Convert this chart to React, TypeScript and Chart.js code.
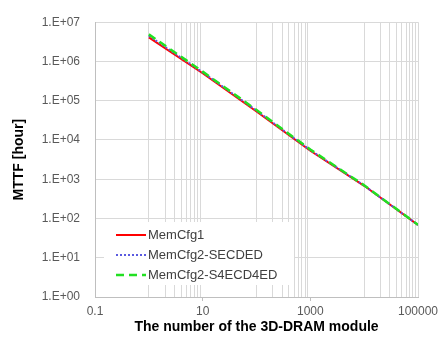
import React, { useEffect, useRef } from "react";
import { Chart, registerables } from "chart.js";

Chart.register(...registerables);

// ---- data ----
const moduleCounts = [1, 10, 100, 1000, 10000, 100000];
const memCfg1 = [4.1e6, 5.0e5, 5.3e4, 5.3e3, 6.8e2, 68];
const memCfg2Secded = [4.5e6, 5.3e5, 5.6e4, 5.5e3, 6.9e2, 68];
const memCfg2S4ecd4ed = [4.9e6, 5.5e5, 5.8e4, 5.7e3, 7.0e2, 69];

const seriesLabels = ["MemCfg1", "MemCfg2-SECDED", "MemCfg2-S4ECD4ED"];

// x-axis: labelled ticks and grid (minor) values
const xLabelValues = [0.1, 10, 1000, 100000];
const xTickLabels = ["0.1", "10", "1000", "100000"];
const xGridValues = [
  1, 2, 3, 4, 5, 6, 7, 8, 9,
  100, 200, 300, 400, 500, 600, 700, 800, 900,
  10000, 20000, 30000, 40000, 50000, 60000, 70000, 80000, 90000,
];

// y-axis
const yTickValues = [1, 10, 100, 1000, 10000, 100000, 1000000, 10000000];
const yTickLabels = ["1.E+00", "1.E+01", "1.E+02", "1.E+03", "1.E+04", "1.E+05", "1.E+06", "1.E+07"];

const FONT = "'Liberation Sans', Arial, sans-serif";
const GRID = "#d9d9d9";
const AXIS = "#bfbfbf";
const TICKTXT = "#595959";

const styles = [
  { color: "#ff0000", width: 2, dash: [] as number[] },
  { color: "#5a5ae0", width: 2, dash: [2, 2] },
  { color: "#22e022", width: 2.5, dash: [8, 5] },
];

const legendPlugin = {
  id: "insideLegend",
  afterDraw(chart: any) {
    const { ctx, chartArea } = chart;
    const boxL = chartArea.left + 9;
    const boxT = chartArea.bottom - 75;
    ctx.save();
    ctx.fillStyle = "#ffffff";
    ctx.fillRect(boxL, boxT, 190, 63);
    const rows = [-62, -42, -22];
    ctx.font = `13px ${FONT}`;
    ctx.textBaseline = "middle";
    seriesLabels.forEach((lbl, i) => {
      const y = chartArea.bottom + rows[i];
      const st = styles[i];
      ctx.beginPath();
      ctx.setLineDash(st.dash);
      ctx.strokeStyle = st.color;
      ctx.lineWidth = st.width;
      ctx.moveTo(chartArea.left + 21, y);
      ctx.lineTo(chartArea.left + 51, y);
      ctx.stroke();
      ctx.setLineDash([]);
      ctx.fillStyle = "#404040";
      ctx.fillText(lbl, chartArea.left + 53, y);
    });
    ctx.restore();
  },
};

export default function App() {
  const ref = useRef<HTMLCanvasElement | null>(null);

  useEffect(() => {
    if (!ref.current) return;
    const series = [memCfg1, memCfg2Secded, memCfg2S4ecd4ed];
    const chart = new Chart(ref.current, {
      type: "line",
      data: {
        datasets: series.map((vals, i) => ({
          label: seriesLabels[i],
          data: moduleCounts.map((x, j) => ({ x, y: vals[j] })),
          borderColor: styles[i].color,
          backgroundColor: styles[i].color,
          borderWidth: styles[i].width,
          borderDash: styles[i].dash,
          pointRadius: 0,
          fill: false,
          tension: 0,
          order: 3 - i,
        })),
      },
      options: {
        responsive: false,
        animation: false,
        devicePixelRatio: 1,
        layout: { padding: { left: 0, right: 28, top: 8, bottom: 0 } },
        plugins: { legend: { display: false }, tooltip: { enabled: false } },
        scales: {
          x: {
            type: "logarithmic",
            min: 0.1,
            max: 100000,
            afterBuildTicks: (s: any) => {
              const vals = [...xLabelValues, ...xGridValues].sort((a, b) => a - b);
              s.ticks = vals.map((v) => ({ value: v }));
            },
            afterFit: (s: any) => {
              s.height = 46;
            },
            ticks: {
              autoSkip: false,
              maxRotation: 0,
              padding: 3,
              color: TICKTXT,
              font: { family: FONT, size: 12 },
              callback: (v: any) => {
                const idx = xLabelValues.indexOf(Number(v));
                return idx >= 0 ? xTickLabels[idx] : "";
              },
            },
            grid: {
              color: (c: any) => {
                const v = c.tick ? c.tick.value : 0;
                return xLabelValues.indexOf(v) >= 0 && v !== 100000 ? "rgba(0,0,0,0)" : GRID;
              },
              tickColor: (c: any) => {
                const v = c.tick ? c.tick.value : 0;
                return v === 10 || v === 1000 ? AXIS : "rgba(0,0,0,0)";
              },
              tickLength: 4,
              drawTicks: true,
            },
            border: { color: AXIS },
            title: {
              display: true,
              text: "The number of the 3D-DRAM module",
              color: "#000",
              font: { family: FONT, size: 14, weight: "bold" },
              padding: { top: 0, bottom: 7 },
            },
          },
          y: {
            type: "logarithmic",
            min: 1,
            max: 10000000,
            afterBuildTicks: (s: any) => {
              s.ticks = yTickValues.map((v) => ({ value: v }));
            },
            afterFit: (s: any) => {
              s.width = 95;
            },
            ticks: {
              padding: 15,
              color: TICKTXT,
              font: { family: FONT, size: 12 },
              callback: (v: any) => {
                const idx = yTickValues.indexOf(Number(v));
                return idx >= 0 ? yTickLabels[idx] : "";
              },
            },
            grid: { color: GRID, drawTicks: false },
            border: { color: AXIS },
            title: {
              display: true,
              text: "MTTF [hour]",
              color: "#000",
              font: { family: FONT, size: 14, weight: "bold" },
              padding: { top: 11, bottom: 0 },
            },
          },
        },
      },
      plugins: [legendPlugin],
    } as any);
    return () => chart.destroy();
  }, []);

  return (
    <div style={{ position: "absolute", left: 0, top: 0, width: 446, height: 343, background: "#fff" }}>
      <canvas ref={ref} width={446} height={343} />
    </div>
  );
}
